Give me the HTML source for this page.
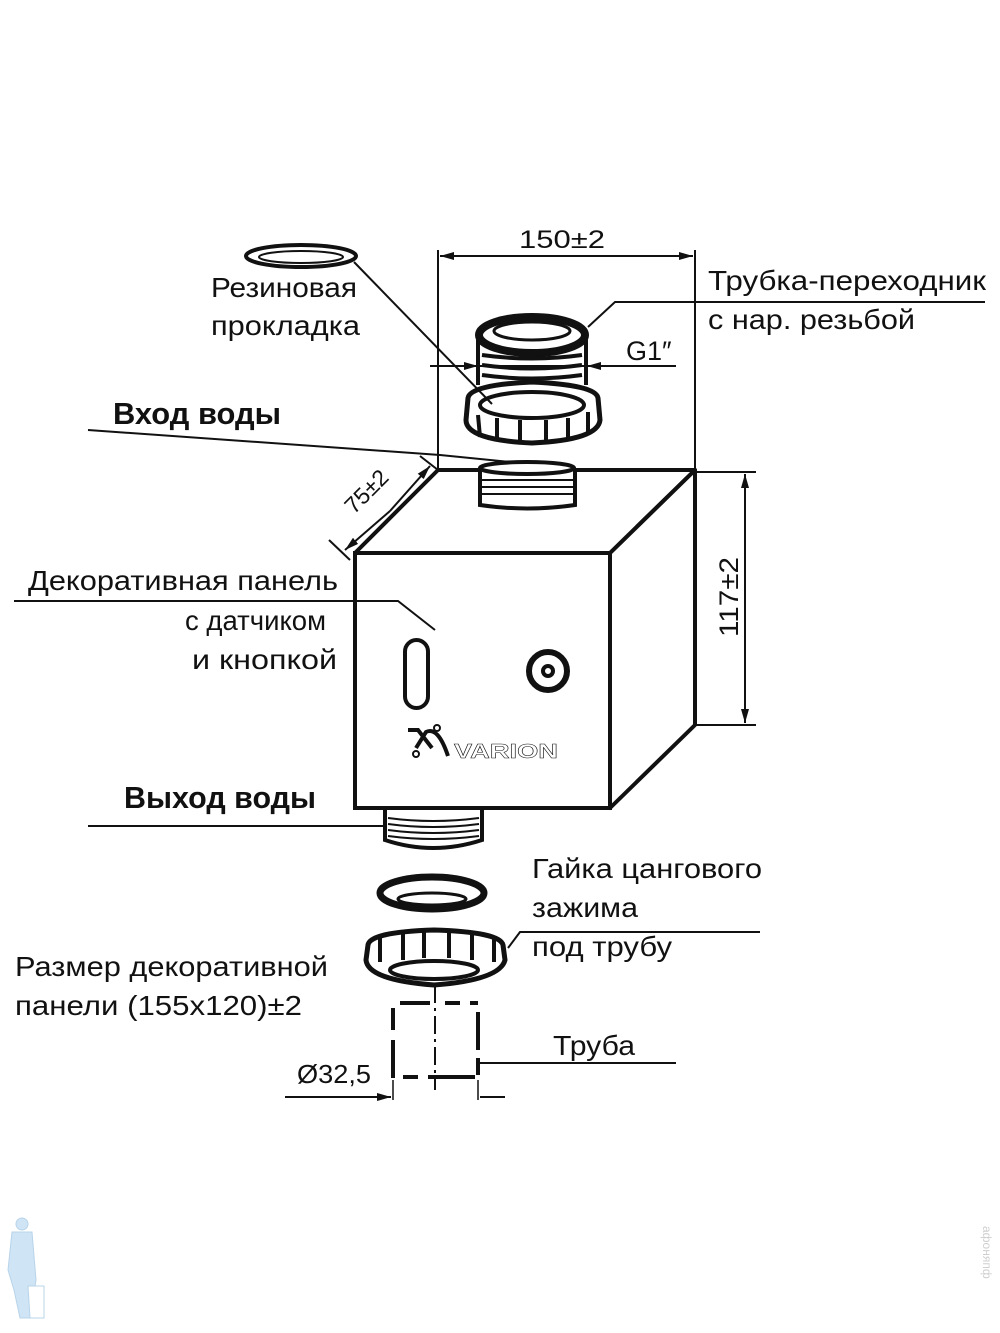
<!DOCTYPE html>
<html><head><meta charset="utf-8"><style>
html,body{margin:0;padding:0;background:#fff}
svg{display:block}
text{font-family:"Liberation Sans","DejaVu Sans",sans-serif;fill:#111}
</style></head><body>
<svg width="1000" height="1333" viewBox="0 0 1000 1333" xmlns="http://www.w3.org/2000/svg">
<defs>
<marker id="a" markerWidth="14" markerHeight="8" refX="14" refY="4" orient="auto" markerUnits="userSpaceOnUse"><path d="M0,0 L14,4 L0,8z" fill="#111"/></marker>
</defs>
<g stroke="#111" fill="none">
<line x1="438" y1="250" x2="438" y2="470" stroke-width="2"/>
<line x1="695" y1="250" x2="695" y2="470" stroke-width="2"/>
<line x1="560" y1="256" x2="440" y2="256" stroke-width="2" marker-end="url(#a)"/>
<line x1="560" y1="256" x2="693" y2="256" stroke-width="2" marker-end="url(#a)"/>
<line x1="695" y1="472" x2="756" y2="472" stroke-width="2"/>
<line x1="695" y1="725" x2="756" y2="725" stroke-width="2"/>
<line x1="745" y1="600" x2="745" y2="474" stroke-width="2" marker-end="url(#a)"/>
<line x1="745" y1="600" x2="745" y2="723" stroke-width="2" marker-end="url(#a)"/>
<line x1="329" y1="540" x2="350" y2="560" stroke-width="2"/>
<line x1="420" y1="456" x2="438" y2="470" stroke-width="2"/>
<line x1="390" y1="511" x2="345" y2="550" stroke-width="2" marker-end="url(#a)"/>
<line x1="390" y1="511" x2="430" y2="466" stroke-width="2" marker-end="url(#a)"/>
<polygon points="355,553 438,470 695,470 610,553" stroke-width="4" stroke-linejoin="round"/>
<polygon points="610,553 695,470 695,725 610,808" stroke-width="4" stroke-linejoin="round"/>
<rect x="355" y="553" width="255" height="255" stroke-width="4"/>
<path d="M480,470 L480,505 Q527,512 575,505 L575,470" fill="#fff" stroke-width="4"/>
<ellipse cx="527" cy="468" rx="47" ry="6" fill="#fff" stroke-width="4"/>
<line x1="482" y1="480" x2="573" y2="480" stroke-width="2"/>
<line x1="482" y1="487" x2="573" y2="487" stroke-width="2"/>
<line x1="482" y1="494" x2="573" y2="494" stroke-width="2"/>
<path d="M478,338 L478,385 M586,338 L586,385" stroke-width="4"/>
<path d="M482,355 Q532,362 582,355 M482,365 Q532,372 582,365 M482,375 Q532,382 582,375" stroke-width="4"/>
<ellipse cx="532" cy="335" rx="53" ry="18" stroke-width="8" fill="#fff"/>
<ellipse cx="532" cy="331" rx="38" ry="9" stroke-width="3"/>
<path d="M468,398 Q470,385 532,382 Q596,385 598,398 L600,420 Q598,440 532,443 Q466,440 466,420 Z" fill="#fff" stroke-width="5"/>
<ellipse cx="532" cy="405" rx="52" ry="13" stroke-width="4"/>
<path d="M478,415 L480,437 M497,418 L497,440 M520,420 L520,443 M546,420 L546,443 M568,418 L568,440 M588,412 L588,432" stroke-width="4"/>
<ellipse cx="301" cy="256" rx="55" ry="11" stroke-width="4"/>
<ellipse cx="301" cy="257" rx="42" ry="6" stroke-width="2"/>
<line x1="354" y1="262" x2="492" y2="404" stroke-width="2"/>
<polyline points="88,430 440,455 510,462" stroke-width="2"/>
<polyline points="985,302 615,302 588,327" stroke-width="2"/>
<line x1="430" y1="366" x2="676" y2="366" stroke-width="2"/>
<line x1="440" y1="366" x2="478" y2="366" stroke-width="2" marker-end="url(#a)"/>
<line x1="620" y1="366" x2="587" y2="366" stroke-width="2" marker-end="url(#a)"/>
<polyline points="14,601 398,601 435,630" stroke-width="2"/>
<rect x="405" y="640" width="23" height="68" rx="11.5" stroke-width="4"/>
<circle cx="548" cy="671" r="19" stroke-width="6"/>
<circle cx="548" cy="671" r="5" stroke-width="4"/>
<path d="M408,730 L418,730 L432,748 M416,748 L426,732 Q438,726 448,756" stroke-width="4"/>
<circle cx="437" cy="728" r="3" stroke-width="2"/>
<circle cx="416" cy="754" r="3" stroke-width="2"/>
<line x1="88" y1="826" x2="387" y2="826" stroke-width="2"/>
<path d="M385,810 L385,840 Q433,856 482,840 L482,810" fill="#fff" stroke-width="4"/>
<path d="M388,818 Q433,824 479,818 M388,824 Q433,830 479,824 M388,830 Q433,836 479,830 M388,836 Q433,842 479,836" stroke-width="2"/>
<ellipse cx="432" cy="893" rx="52" ry="16" stroke-width="7"/>
<ellipse cx="432" cy="899" rx="34" ry="6" stroke-width="3"/>
<path d="M368,945 Q370,932 434,930 Q500,932 503,945 L505,960 Q500,980 434,985 Q368,980 366,960 Z" fill="#fff" stroke-width="5"/>
<ellipse cx="434" cy="970" rx="44" ry="9" stroke-width="4"/>
<path d="M380,937 L380,962 M403,933 L403,960 M424,932 L424,958 M449,932 L449,958 M472,933 L472,960 M494,937 L494,962" stroke-width="4"/>
<polyline points="508,948 520,932 760,932" stroke-width="2"/>
<g stroke-width="4">
<path d="M400,1003 L430,1003 M445,1003 L460,1003 M470,1003 L478,1003"/>
<path d="M393,1008 L393,1030 M393,1040 L393,1078"/>
<path d="M478,1012 L478,1050 M478,1058 L478,1075"/>
<path d="M403,1077 L418,1077 M428,1077 L475,1077"/>
</g>
<line x1="435" y1="985" x2="435" y2="1090" stroke-width="2" stroke-dasharray="18,5,3,5"/>
<line x1="393" y1="1080" x2="393" y2="1100" stroke-width="1.5"/>
<line x1="478" y1="1080" x2="478" y2="1100" stroke-width="1.5"/>
<line x1="285" y1="1097" x2="391" y2="1097" stroke-width="2" marker-end="url(#a)"/>
<line x1="480" y1="1097" x2="505" y2="1097" stroke-width="2"/>
<line x1="478" y1="1063" x2="676" y2="1063" stroke-width="2"/>
</g>
<text x="519" y="248" font-size="25" textLength="86" lengthAdjust="spacingAndGlyphs">150±2</text>
<text x="211" y="297" font-size="28" textLength="146" lengthAdjust="spacingAndGlyphs">Резиновая</text>
<text x="211" y="335" font-size="28" textLength="149" lengthAdjust="spacingAndGlyphs">прокладка</text>
<text x="708" y="290" font-size="28" textLength="278" lengthAdjust="spacingAndGlyphs">Трубка-переходник</text>
<text x="708" y="329" font-size="28" textLength="207" lengthAdjust="spacingAndGlyphs">с нар. резьбой</text>
<text x="626" y="360" font-size="27">G1″</text>
<text x="113" y="424" font-size="31" font-weight="bold" textLength="168" lengthAdjust="spacingAndGlyphs">Вход воды</text>
<text x="0" y="0" font-size="27" transform="translate(738,637) rotate(-90)" textLength="80" lengthAdjust="spacingAndGlyphs">117±2</text>
<text x="0" y="0" font-size="23" transform="translate(354,515) rotate(-45)">75±2</text>
<text x="28" y="590" font-size="28" textLength="310" lengthAdjust="spacingAndGlyphs">Декоративная панель</text>
<text x="185" y="630" font-size="28" textLength="141" lengthAdjust="spacingAndGlyphs">с датчиком</text>
<text x="192" y="669" font-size="28" textLength="145" lengthAdjust="spacingAndGlyphs">и кнопкой</text>
<text x="454" y="758" font-size="20" font-weight="bold" textLength="104" lengthAdjust="spacingAndGlyphs" style="stroke:#111;stroke-width:0.5;fill:#fff">VARION</text>
<text x="124" y="808" font-size="31" font-weight="bold" textLength="192" lengthAdjust="spacingAndGlyphs">Выход воды</text>
<text x="532" y="878" font-size="28" textLength="230" lengthAdjust="spacingAndGlyphs">Гайка цангового</text>
<text x="532" y="917" font-size="28" textLength="106" lengthAdjust="spacingAndGlyphs">зажима</text>
<text x="532" y="956" font-size="28" textLength="140" lengthAdjust="spacingAndGlyphs">под трубу</text>
<text x="15" y="976" font-size="28" textLength="313" lengthAdjust="spacingAndGlyphs">Размер декоративной</text>
<text x="15" y="1015" font-size="28" textLength="287" lengthAdjust="spacingAndGlyphs">панели  (155x120)±2</text>
<text x="553" y="1055" font-size="28" textLength="82" lengthAdjust="spacingAndGlyphs">Труба</text>
<text x="297" y="1083" font-size="26" textLength="74" lengthAdjust="spacingAndGlyphs">Ø32,5</text>
<g fill="#cfe4f5" stroke="#b8d4ea" stroke-width="1">
<circle cx="22" cy="1224" r="6"/>
<path d="M12,1232 L32,1232 L36,1280 L30,1318 L20,1318 L14,1290 L8,1270 Z"/>
<path d="M28,1286 L44,1286 L44,1318 L30,1318 Z" fill="#fff"/>
</g>
<text x="0" y="0" font-size="12" style="fill:#cfcfcf" transform="translate(983,1226) rotate(90)">афоняпф</text>
</svg>
</body></html>
